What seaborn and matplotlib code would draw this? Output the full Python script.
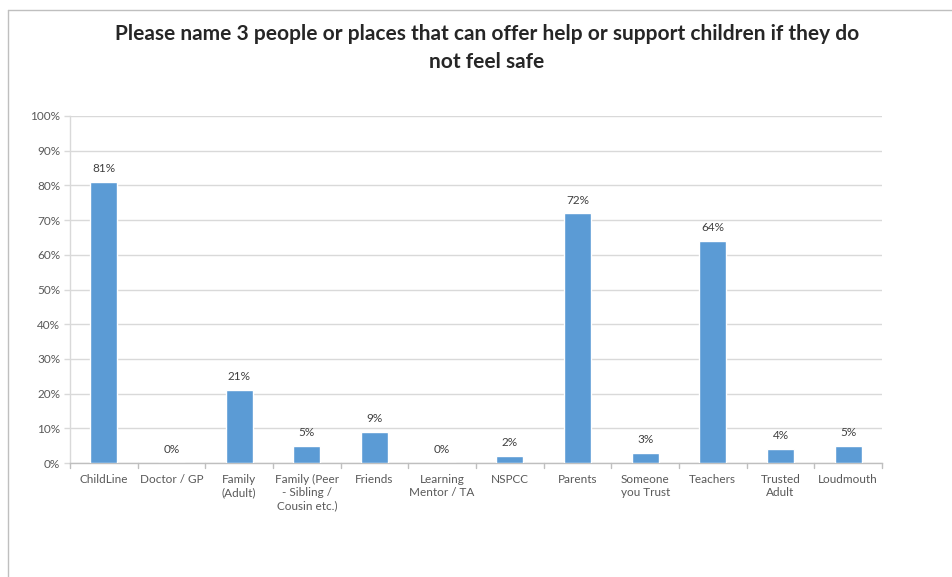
import matplotlib
matplotlib.use("Agg")
import matplotlib.pyplot as plt
import seaborn as sns
import pandas as pd
from matplotlib.lines import Line2D
from matplotlib.ticker import FuncFormatter, MultipleLocator

categories = ["ChildLine", "Doctor / GP", "Family\n(Adult)", "Family (Peer\n- Sibling /\nCousin etc.)",
              "Friends", "Learning\nMentor / TA", "NSPCC", "Parents", "Someone\nyou Trust",
              "Teachers", "Trusted\nAdult", "Loudmouth"]
values = [81, 0, 21, 5, 9, 0, 2, 72, 3, 64, 4, 5]
title = "Please name 3 people or places that can offer help or support children if they do\nnot feel safe"

sns.set_theme(style="white")
plt.rcParams['font.family'] = ['Lato', 'DejaVu Sans']

df = pd.DataFrame({"cat": categories, "val": values})

fig = plt.figure(figsize=(9.52, 5.77), dpi=100)
ax = fig.add_axes([70/952, 1-463/577, (882-70)/952, (463-116)/577])

sns.barplot(data=df, x="cat", y="val", color="#5B9BD5", width=0.4, ax=ax, zorder=3, saturation=1)

ax.set_ylim(0, 100)
ax.set_xlim(-0.5, len(categories) - 0.5)
ax.yaxis.set_major_locator(MultipleLocator(10))
ax.yaxis.set_major_formatter(FuncFormatter(lambda v, p: f"{int(v)}%"))
ax.grid(axis="y", color="#D9D9D9", linewidth=1, zorder=0)
ax.set_xlabel("")
ax.set_ylabel("")
for s in ["top", "right"]:
    ax.spines[s].set_visible(False)
ax.spines["left"].set_color("#D9D9D9")
ax.spines["left"].set_linewidth(1)
ax.spines["bottom"].set_color("#BFBFBF")
ax.spines["bottom"].set_linewidth(1)

ax.set_xticks([i for i in range(len(categories))])
ax.set_xticklabels(categories, fontsize=8.5, color="#595959", linespacing=1.25)
ax.tick_params(axis="x", length=0, pad=8)
ax.tick_params(axis="y", labelsize=8.5, labelcolor="#595959", length=4, width=1,
               color="#D9D9D9", direction="out", left=True, pad=3)
for i in range(len(categories) + 1):
    ax.plot([i - 0.5, i - 0.5], [0, -1.3], color="#BFBFBF", lw=1, clip_on=False, zorder=4)

for i, v in enumerate(values):
    ax.text(i, v + 2.2, f"{v}%", ha="center", va="bottom", fontsize=8.5, color="#404040")

fig.text(487/952, 1-48/577, title, ha="center", va="center", fontsize=15, fontweight="bold",
         color="#262626", linespacing=1.5)

fig.add_artist(Line2D([7.5/952, 7.5/952], [0, 1-10/577], color="#BFBFBF", lw=1, transform=fig.transFigure))
fig.add_artist(Line2D([7.5/952, 1], [1-10/577, 1-10/577], color="#BFBFBF", lw=1, transform=fig.transFigure))

fig.savefig("out.png", dpi=100)
